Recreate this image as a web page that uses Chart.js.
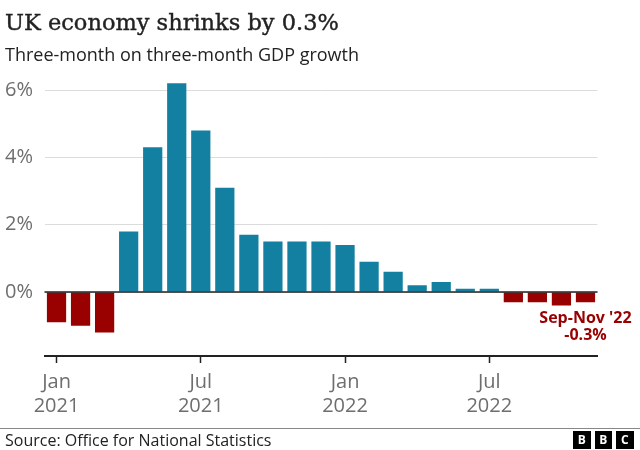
<!DOCTYPE html>
<html>
<head>
<meta charset="utf-8">
<script src="https://cdn.jsdelivr.net/npm/chart.js@4"></script>
<style>
  body { margin: 0; background: #fff; }
  #wrap { position: relative; width: 640px; height: 450px; overflow: hidden; }
  #myChart { position: absolute; left: 0; top: 0; }
  .txt { position: absolute; margin: 0; line-height: 1; white-space: nowrap; color: #222; }
  #title { left: 5px; top: 9px; font: 22.5px "DejaVu Serif", serif; -webkit-text-stroke: 0.4px #222; }
  #subtitle { left: 5px; top: 42px; font: 18px "Open Sans", sans-serif; }
  #source { left: 5px; top: 429px; font: 16px "Open Sans", sans-serif; }
  #rule { position: absolute; left: 0; top: 428px; width: 640px; height: 1px; background: #888; }
  #logo { position: absolute; left: 573px; top: 431px; display: flex; gap: 4px; }
  #logo span { width: 17.5px; height: 17.5px; background: #000; color: #fff;
    font: bold 12px "Open Sans", sans-serif; line-height: 17.5px; text-align: center; }
</style>
</head>
<body>
<div id="wrap">
  <canvas id="myChart" width="640" height="450"></canvas>
  <div id="title" class="txt">UK economy shrinks by 0.3%</div>
  <div id="subtitle" class="txt">Three-month on three-month GDP growth</div>
  <div id="rule"></div>
  <div id="source" class="txt">Source: Office for National Statistics</div>
  <div id="logo"><span>B</span><span>B</span><span>C</span></div>
</div>
<script>
const months = [
  "Jan 2021", "Feb 2021", "Mar 2021", "Apr 2021", "May 2021", "Jun 2021",
  "Jul 2021", "Aug 2021", "Sep 2021", "Oct 2021", "Nov 2021", "Dec 2021",
  "Jan 2022", "Feb 2022", "Mar 2022", "Apr 2022", "May 2022", "Jun 2022",
  "Jul 2022", "Aug 2022", "Sep 2022", "Oct 2022", "Nov 2022"
];
const growth = [
  -0.9, -1.0, -1.2, 1.8, 4.3, 6.2,
  4.8, 3.1, 1.7, 1.5, 1.5, 1.5,
  1.4, 0.9, 0.6, 0.2, 0.3, 0.1,
  0.1, -0.3, -0.3, -0.4, -0.3
];
const tickMonths = ["Jan 2021", "Jul 2021", "Jan 2022", "Jul 2022"];
const yTicks = [0, 2, 4, 6];
const noteLines = ["Sep-Nov '22", "-0.3%"];

const blue = "#1380a1";
const red = "#990000";
const grey = "#6e6e6e";

// zero line sits on top of the bars, the other grid lines behind them
const zeroLine = {
  id: "zeroLine",
  afterDatasetsDraw(chart) {
    const { ctx, chartArea, scales } = chart;
    const y = scales.y.getPixelForValue(0);
    ctx.save();
    ctx.strokeStyle = "#222";
    ctx.lineWidth = 1.5;
    ctx.beginPath();
    ctx.moveTo(chartArea.left, y);
    ctx.lineTo(chartArea.right, y);
    ctx.stroke();
    ctx.restore();
  },
};

// label under the latest bar
const lastNote = {
  id: "lastNote",
  afterDraw(chart) {
    const { ctx } = chart;
    const bars = chart.getDatasetMeta(0).data;
    const bar = bars[bars.length - 1];
    ctx.save();
    ctx.fillStyle = red;
    ctx.font = 'bold 16px "Open Sans", sans-serif';
    ctx.textAlign = "center";
    ctx.textBaseline = "middle";
    noteLines.forEach((line, i) => {
      ctx.fillText(line, bar.x, bar.y + 16 + i * 17);
    });
    ctx.restore();
  },
};

const myChart = new Chart(document.getElementById("myChart"), {
  type: "bar",
  data: {
    labels: months,
    datasets: [
      {
        data: growth,
        backgroundColor: growth.map((v) => (v < 0 ? red : blue)),
        categoryPercentage: 1,
        barPercentage: 0.8,
      },
    ],
  },
  options: {
    responsive: false,
    animation: false,
    devicePixelRatio: 1,
    layout: { padding: { left: 5, right: 42.5, top: 80, bottom: 0 } },
    plugins: { legend: { display: false }, tooltip: { enabled: false } },
    scales: {
      x: {
        afterFit: (s) => { s.height = 94; },
        grid: {
          offset: false,
          drawOnChartArea: false,
          drawTicks: true,
          tickLength: 7,
          tickColor: "#222",
          tickWidth: 1.5,
        },
        border: { color: "#222", width: 2 },
        ticks: {
          autoSkip: false,
          maxRotation: 0,
          padding: 7,
          color: grey,
          font: { family: "Open Sans", size: 20 },
          callback: (v, i) =>
            tickMonths.includes(months[i]) ? months[i].split(" ") : null,
        },
      },
      y: {
        min: -1.9,
        max: 6.3,
        afterFit: (s) => { s.width = 39.5; },
        afterBuildTicks: (s) => { s.ticks = yTicks.map((v) => ({ value: v })); },
        grid: { color: "#dcdcdc", lineWidth: 1, drawTicks: false },
        border: { display: false },
        ticks: {
          crossAlign: "far",
          padding: 0,
          color: grey,
          font: { family: "Open Sans", size: 20 },
          callback: (v) => v + "%",
        },
      },
    },
  },
  plugins: [zeroLine, lastNote],
});
</script>
</body>
</html>
